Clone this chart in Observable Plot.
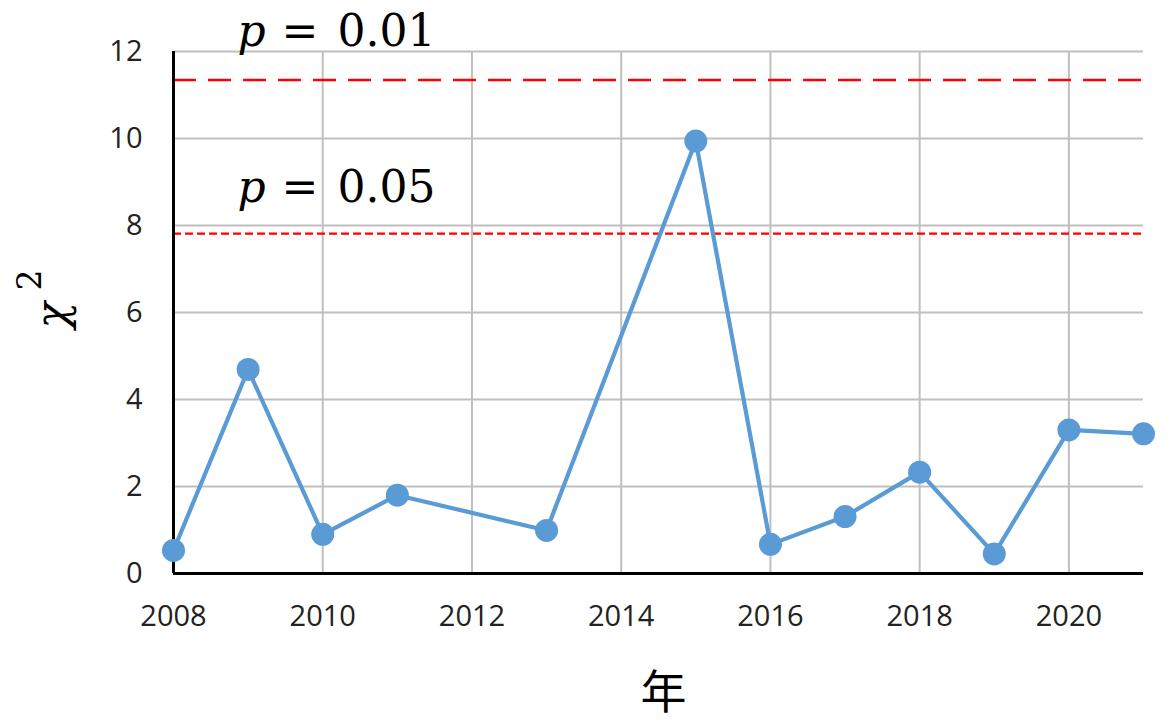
<!DOCTYPE html>
<html><head><meta charset="utf-8">
<script src="https://cdn.jsdelivr.net/npm/d3@7"></script>
<script src="https://cdn.jsdelivr.net/npm/@observablehq/plot@0.6"></script>
<style>html,body{margin:0;padding:0;background:#fff} svg{display:block}</style>
</head><body><div id="chart"></div>
<script>
const years = [2008, 2009, 2010, 2011, 2013, 2015, 2016, 2017, 2018, 2019, 2020, 2021];
const chi2  = [0.53, 4.69, 0.90, 1.80, 0.99, 9.94, 0.67, 1.31, 2.33, 0.45, 3.30, 3.21];
const pLabels   = ["0.01", "0.05"];
const pCritical = [11.345, 7.815];
const pLabelY   = [12.12, 8.55];
const pLabelX   = [2008, 2008];
const xTicks = [2008, 2010, 2012, 2014, 2016, 2018, 2020];
const yTicks = [0, 2, 4, 6, 8, 10, 12];
const xGrid  = [2010, 2012, 2014, 2016, 2018, 2020];
const yGrid  = [2, 4, 6, 8, 10, 12];
const xLabel = "年";

const data = years.map((y, i) => ({year: y, chi2: chi2[i]}));
const pData = pLabels.map((l, i) => ({label: l, crit: pCritical[i], ty: pLabelY[i], tx: pLabelX[i]}));

const blue = "#5b9bd5";
const serif = "DejaVu Serif";

const chart = Plot.plot({
  width: 1168, height: 722,
  marginLeft: 173, marginRight: 25, marginTop: 51, marginBottom: 149,
  style: {fontFamily: "Open Sans", color: "#222", background: "#fff"},
  x: {domain: [2008, 2021]},
  y: {domain: [0, 12]},
  marks: [
    Plot.ruleX(xGrid, {stroke: "#bfbfbf", strokeWidth: 2}),
    Plot.ruleY(yGrid, {stroke: "#bfbfbf", strokeWidth: 2}),
    Plot.ruleY([pData[0]], {y: "crit", stroke: "#ff0000", strokeWidth: 2.5, strokeDasharray: "23,12"}),
    Plot.ruleY([pData[1]], {y: "crit", stroke: "#ff0000", strokeWidth: 2.2, strokeDasharray: "8,4"}),
    Plot.ruleX([2008], {stroke: "#000", strokeWidth: 3}),
    Plot.ruleY([0], {stroke: "#000", strokeWidth: 3}),
    Plot.axisX({ticks: xTicks, tickFormat: "d", tickSize: 0, tickPadding: 32, label: null, fontSize: 29}),
    Plot.axisY({ticks: yTicks, tickSize: 0, tickPadding: 31, label: null, fontSize: 29}),
    Plot.line(data, {x: "year", y: "chi2", stroke: blue, strokeWidth: 4.2}),
    Plot.dot(data, {x: "year", y: "chi2", r: 11.5, fill: blue, stroke: "none"}),
    // p annotations
    Plot.text(pData, {x: "tx", y: "ty", text: () => "p", dx: 64, textAnchor: "start", lineAnchor: "bottom",
      fontFamily: serif, fontStyle: "italic", fontSize: 44, fill: "#000"}),
    Plot.text(pData, {x: "tx", y: "ty", text: () => "=", dx: 108, textAnchor: "start", lineAnchor: "bottom",
      fontFamily: serif, fontSize: 44, fill: "#000"}),
    Plot.text(pData, {x: "tx", y: "ty", text: "label", dx: 164, textAnchor: "start", lineAnchor: "bottom",
      fontFamily: serif, fontSize: 44, fill: "#000"}),
    // y label chi^2
    Plot.text(["χ"], {frameAnchor: "left", dx: -121, dy: 16, rotate: -90, fontFamily: serif, fontStyle: "italic", fontSize: 44, fill: "#000"}),
    Plot.text(["2"], {frameAnchor: "left", dx: -143, dy: -22, rotate: -90, fontFamily: serif, fontSize: 33, fill: "#000"}),
    // x label
    Plot.text([xLabel], {frameAnchor: "bottom", dx: 5, dy: 134, fontFamily: "Noto Sans CJK JP", fontSize: 46, fill: "#000"})
  ]
});
document.getElementById("chart").appendChild(chart);
</script>
</body></html>
